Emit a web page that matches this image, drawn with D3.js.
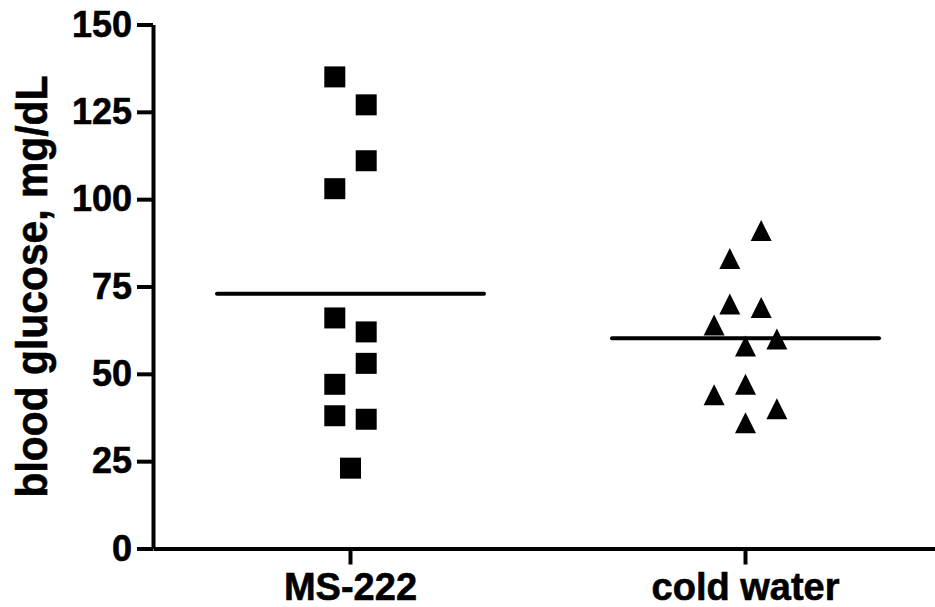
<!DOCTYPE html>
<html>
<head>
<meta charset="utf-8">
<script src="https://cdn.jsdelivr.net/npm/d3@7"></script>
<style>
  body { margin: 0; background: #fff; }
  svg { display: block; }
</style>
</head>
<body>
<div id="chart"></div>
<script>
// groups on the x axis
var categories = ["MS-222", "cold water"]

// blood glucose readings, mg/dL
var ms222Values = [135, 127, 111, 103, 66, 62, 53, 47, 38, 37, 23]
var coldWaterValues = [91, 83, 70, 69, 64, 60, 58, 47, 44, 40, 36]

// scatter column each point sits in (0 = centre of the group)
var ms222Columns = [-1, 1, 1, -1, -1, 1, 1, -1, -1, 1, 0]
var coldWaterColumns = [1, -1, -1, 1, -2, 2, 0, 0, -2, 2, 0]

var yTicks = [0, 25, 50, 75, 100, 125, 150]
var yLabel = "blood glucose, mg/dL"

function draw() {
    "use strict"
    var width = 935, height = 607
    var margin = { top: 24.5, left: 153, bottom: 58.5, right: -8 }
    var chartWidth = width - margin.left - margin.right
    var chartHeight = height - margin.top - margin.bottom
    var FONT = "'Liberation Sans', Arial, Helvetica, sans-serif"
    var COL_STEP = 15.7
    var HALF_MEAN = 133.5

    var svg = d3.select("#chart").append("svg")
        .attr("width", width)
        .attr("height", height)
    var g = svg.append("g")
        .attr("transform", "translate(" + [margin.left, margin.top] + ")")

    var x = d3.scaleBand().domain(categories).range([0, chartWidth])
    var y = d3.scaleLinear().domain([0, 150]).range([chartHeight, 0])
    var cx = function(cat) { return x(cat) + x.bandwidth() / 2 }

    function boldText(sel, size) {
        sel.attr("font-family", FONT)
            .attr("font-size", size)
            .attr("font-weight", "bold")
            .attr("fill", "#000")
            .attr("stroke", "#000")
            .attr("stroke-width", 0.6)
    }

    // y axis
    var yAxis = g.append("g")
        .call(d3.axisLeft(y).tickValues(yTicks).tickSize(16).tickSizeOuter(0).tickPadding(5))
    yAxis.select(".domain").attr("stroke-width", 4)
    yAxis.selectAll(".tick line").attr("stroke-width", 4)
    yAxis.selectAll(".tick text").call(boldText, 36)

    // x axis
    var xAxis = g.append("g")
        .attr("transform", "translate(0," + chartHeight + ")")
        .call(d3.axisBottom(x).tickSize(16).tickSizeOuter(0).tickPadding(9))
    xAxis.select(".domain").attr("stroke-width", 4)
    xAxis.selectAll(".tick line").attr("stroke-width", 4)
    xAxis.selectAll(".tick text").call(boldText, 38)

    // y axis title
    svg.append("text")
        .attr("transform", "translate(47," + (margin.top + chartHeight / 2) + ") rotate(-90)")
        .attr("text-anchor", "middle")
        .attr("textLength", 422)
        .attr("lengthAdjust", "spacingAndGlyphs")
        .call(boldText, 44)
        .text(yLabel)

    var groups = [
        { cat: categories[0], values: ms222Values, cols: ms222Columns, shape: "square" },
        { cat: categories[1], values: coldWaterValues, cols: coldWaterColumns, shape: "triangle" }
    ]

    groups.forEach(function(grp) {
        var pts = grp.values.map(function(v, i) { return { v: v, col: grp.cols[i] } })
        var marks = g.append("g").selectAll("path")
            .data(pts)
            .enter().append("path")
            .attr("fill", "#000")
            .attr("transform", function(d) {
                return "translate(" + [cx(grp.cat) + d.col * COL_STEP, y(d.v)] + ")"
            })
        if (grp.shape == "square") {
            marks.attr("d", "M-10.5,-10.5H10.5V10.5H-10.5Z")
        } else {
            marks.attr("d", "M0,-10.5L10.5,10.5H-10.5Z")
        }

        // mean line
        var m = d3.mean(grp.values)
        g.append("line")
            .attr("x1", cx(grp.cat) - HALF_MEAN)
            .attr("x2", cx(grp.cat) + HALF_MEAN)
            .attr("y1", y(m))
            .attr("y2", y(m))
            .attr("stroke", "#000")
            .attr("stroke-width", 4)
            .attr("stroke-linecap", "round")
    })
}

draw()
</script>
</body>
</html>
